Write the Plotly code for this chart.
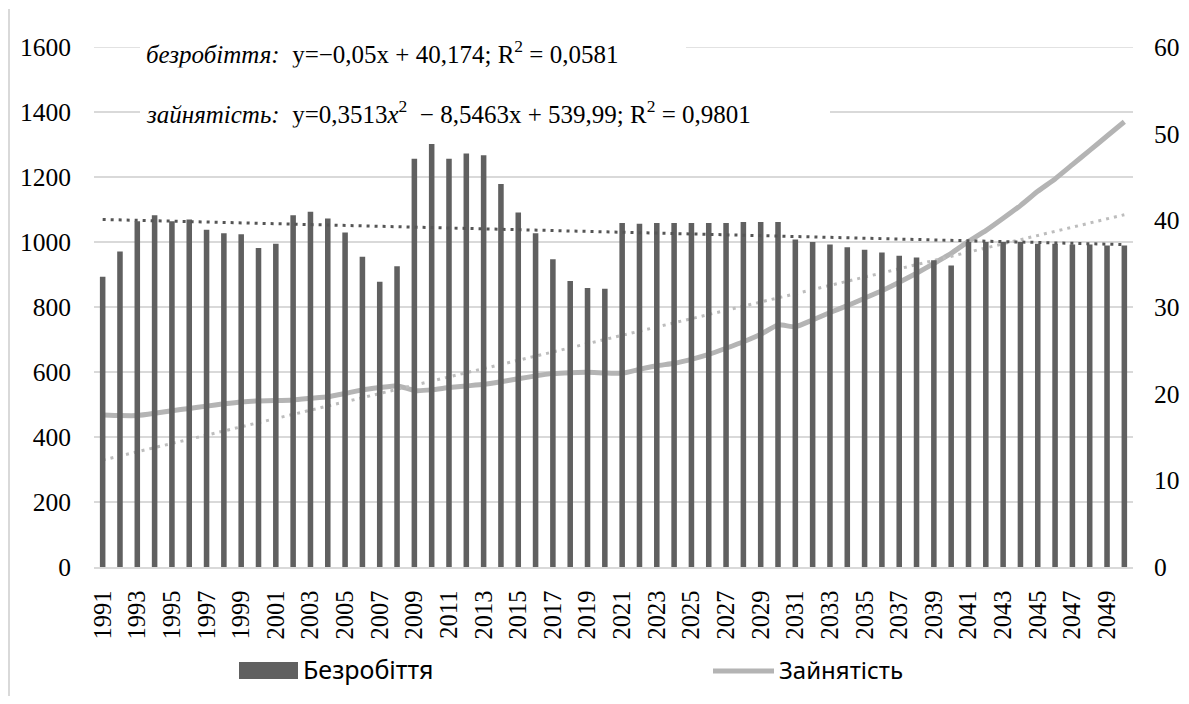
import plotly.graph_objects as go

# ---------------- data ----------------
YEARS = list(range(1991, 2051))

# Безробіття (bars, right axis units 0-60)
UNEMPLOYMENT = [
    33.5, 36.4, 39.9, 40.6, 39.9, 40.1, 38.9, 38.5, 38.4, 36.8,
    37.3, 40.6, 41.0, 40.2, 38.6, 35.8, 32.9, 34.7, 47.1, 48.8,
    47.1, 47.7, 47.5, 44.2, 40.9, 38.5, 35.5, 33.0, 32.2, 32.1,
    39.7, 39.6, 39.7, 39.7, 39.7, 39.7, 39.7, 39.8, 39.8, 39.8,
    37.8, 37.5, 37.2, 36.9, 36.6, 36.3, 35.9, 35.7, 35.4, 34.8,
    37.5, 37.5, 37.5, 37.5, 37.3, 37.3, 37.2, 37.2, 37.1, 37.1,
]

# Зайнятість (line, left axis units 0-1600)
EMPLOYMENT = [
    468, 466, 466, 473, 481, 488, 495, 502, 508, 511,
    512, 514, 519, 524, 534, 545, 552, 558, 543, 545,
    552, 557, 562, 570, 579, 588, 595, 598, 599, 597,
    596, 608, 619, 627, 639, 654, 673, 693, 716, 745,
    739, 760, 783, 804, 827, 850, 876, 904, 934, 965,
    1002, 1035, 1073, 1112, 1156, 1194, 1238, 1282, 1326, 1370,
]

# trend lines (end points)
TREND_X = [1991, 2050]
UNEMP_TREND = [40.1, 37.2]      # right axis
EMPL_TREND = [329, 1084]        # left axis

X_TICKS = list(range(1991, 2051, 2))
LEFT_TICKS = [0, 200, 400, 600, 800, 1000, 1200, 1400, 1600]
RIGHT_TICKS = [0, 10, 20, 30, 40, 50, 60]

EQ_UNEMP = "<i>безробіття:</i>  y=−0,05x + 40,174; R<sup>2</sup> = 0,0581"
EQ_EMPL = "<i>зайнятість:</i>  y=0,3513<i>x</i><sup>2</sup>  − 8,5463x + 539,99; R<sup>2</sup> = 0,9801"
LEG_BAR = "Безробіття"
LEG_LINE = "Зайнятість"

# ---------------- layout helpers ----------------
# the page body has an 8px margin, so the figure is drawn from page (8, 8)
OFF = 8
W, H = 1189 - 2 * OFF, 704 - 2 * OFF
# plot area in page pixels
PL, PR, PT, PB = 94, 1133, 47, 567


def px(p):
    return (p - PL) / (PR - PL)


def py(p):
    return (PB - p) / (PB - PT)


SERIF = "Times New Roman, Liberation Serif, serif"
SANS = "Noto Sans"
GRID = "#d9d9d9"

fig = go.Figure()

fig.add_trace(go.Bar(
    x=YEARS, y=UNEMPLOYMENT, name=LEG_BAR, yaxis="y2",
    marker=dict(color="#606060", line=dict(width=0)),
    showlegend=False,
))
fig.add_trace(go.Scatter(
    x=YEARS, y=EMPLOYMENT, name=LEG_LINE, mode="lines", yaxis="y",
    line=dict(color="#b4b4b4", width=5, shape="spline", smoothing=0.4),
    showlegend=False,
))
fig.add_trace(go.Scatter(
    x=TREND_X, y=EMPL_TREND, mode="lines", yaxis="y",
    line=dict(color="#bdbdbd", width=3, dash="3px,5px"),
    showlegend=False, hoverinfo="skip",
))
fig.add_trace(go.Scatter(
    x=TREND_X, y=UNEMP_TREND, mode="lines", yaxis="y2",
    line=dict(color="#555555", width=3, dash="3px,5px"),
    showlegend=False, hoverinfo="skip",
))

fig.update_layout(
    template="none",
    width=W, height=H,
    margin=dict(l=PL - OFF, r=(W + OFF) - PR, t=PT - OFF, b=(H + OFF) - PB, pad=0),
    paper_bgcolor="white", plot_bgcolor="white",
    bargap=0.68,
    showlegend=False,
    xaxis=dict(
        range=[1990.5, 2050.5], tickmode="array", tickvals=X_TICKS,
        ticktext=[str(v) for v in X_TICKS], tickangle=-90,
        tickfont=dict(family=SERIF, size=24.5, color="#000"),
        showgrid=False, showline=True, linecolor=GRID, linewidth=1.5,
        ticks="", ticklen=0, ticklabelstandoff=12, zeroline=False,
        automargin=False,
    ),
    yaxis=dict(
        range=[0, 1600], tickmode="array", tickvals=LEFT_TICKS,
        tickfont=dict(family=SERIF, size=25.5, color="#000"),
        showgrid=True, gridcolor=GRID, gridwidth=1.5, showline=False,
        zeroline=False, ticks="", ticklen=0, ticklabelstandoff=22,
        automargin=False,
    ),
    yaxis2=dict(
        range=[0, 60], tickmode="array", tickvals=RIGHT_TICKS,
        overlaying="y", side="right",
        tickfont=dict(family=SERIF, size=25.5, color="#000"),
        showgrid=False, zeroline=False, showline=False,
        ticks="", ticklen=0, ticklabelstandoff=20, automargin=False,
    ),
    font=dict(family=SERIF, color="#000"),
)

# top gridline (at the range edge)
fig.add_shape(type="line", xref="paper", yref="y", x0=0, x1=1, y0=1600, y1=1600,
              line=dict(color=GRID, width=1.5), layer="below")

# equation annotations (white boxes hide grid behind text)
fig.add_annotation(
    xref="paper", yref="paper", x=px(140), y=py(52), xanchor="left", yanchor="middle",
    text=EQ_UNEMP, showarrow=False, align="left", width=686 - 140 - 12,
    bgcolor="white", borderpad=6, borderwidth=0,
    font=dict(family=SERIF, size=25, color="#000"),
)
fig.add_annotation(
    xref="paper", yref="paper", x=px(140), y=py(112), xanchor="left", yanchor="middle",
    text=EQ_EMPL, showarrow=False, align="left", width=830 - 140 - 12,
    bgcolor="white", borderpad=6, borderwidth=0,
    font=dict(family=SERIF, size=25, color="#000"),
)

# manual legend
fig.add_shape(type="rect", xref="paper", yref="paper",
              x0=px(239), x1=px(298), y0=py(679), y1=py(662),
              fillcolor="#606060", line=dict(width=0))
fig.add_annotation(xref="paper", yref="paper", x=px(301), y=py(669),
                   xanchor="left", yanchor="middle", text=LEG_BAR, showarrow=False,
                   font=dict(family=SANS, size=25, color="#000"))
fig.add_shape(type="line", xref="paper", yref="paper",
              x0=px(713), x1=px(774), y0=py(671), y1=py(671),
              line=dict(color="#b4b4b4", width=5))
fig.add_annotation(xref="paper", yref="paper", x=px(777), y=py(669),
                   xanchor="left", yanchor="middle", text=LEG_LINE, showarrow=False,
                   font=dict(family=SANS, size=24, color="#000"))

# chart border on the left
fig.add_shape(type="line", xref="paper", yref="paper",
              x0=px(9), x1=px(9), y0=py(9), y1=py(700),
              line=dict(color=GRID, width=2))

fig.write_html("out.html")
